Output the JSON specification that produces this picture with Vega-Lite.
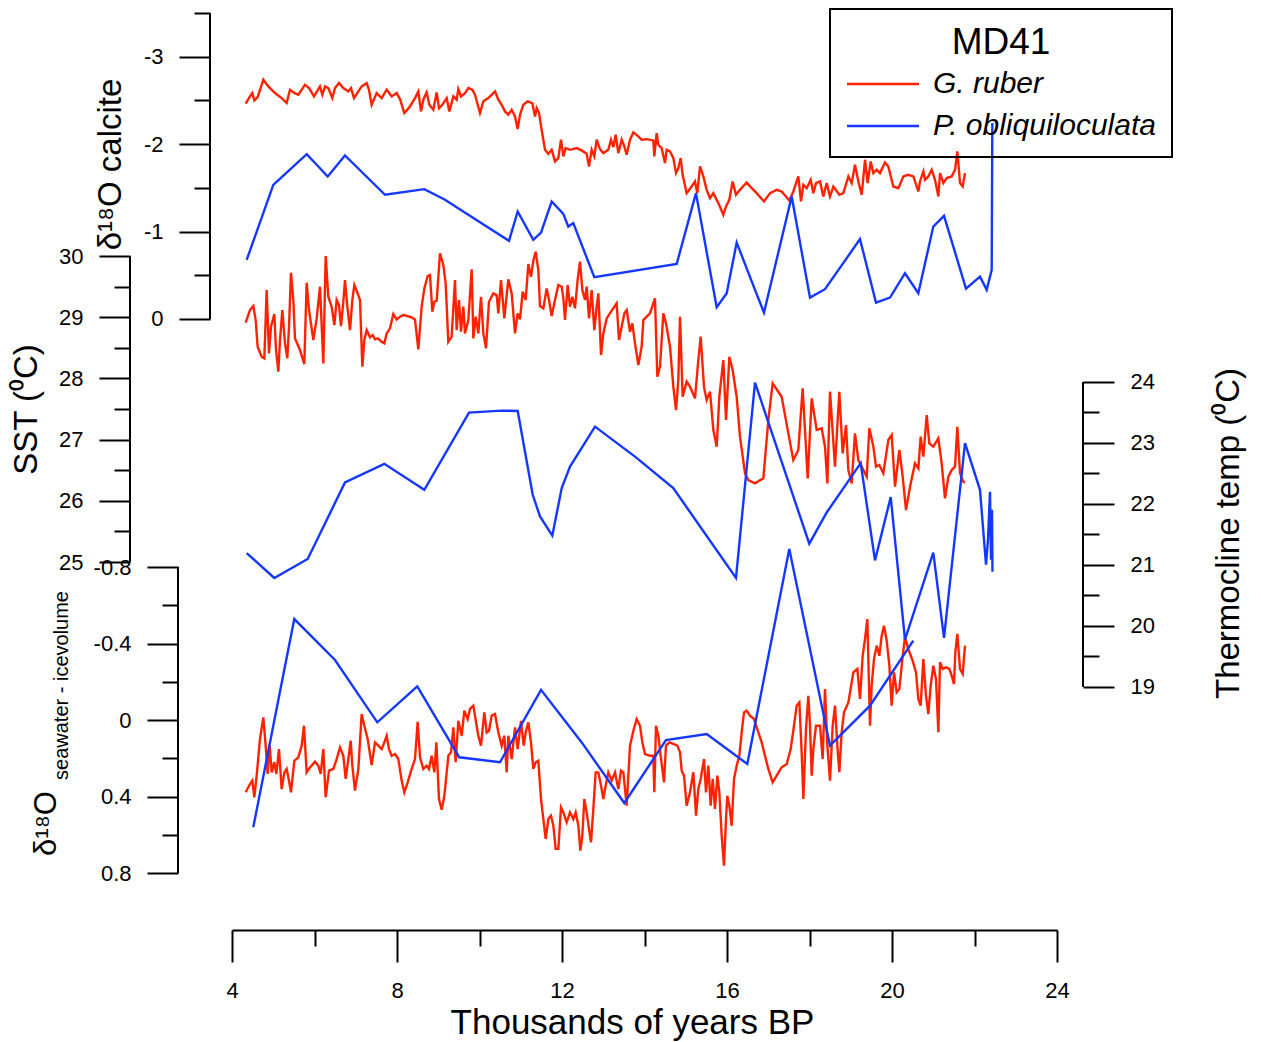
{
"$schema": "https://vega.github.io/schema/vega-lite/v6.json",
"width": 825, "height": 917, "autosize": "none",
"padding": {"left": 232, "top": 13, "right": 204, "bottom": 112},
"background": "white",
"config": {
 "view": {"stroke": null},
 "font": "Liberation Sans",
 "axis": {"grid": false, "domainColor": "#000", "domainWidth": 2, "tickColor": "#000", "tickWidth": 2, "labelColor": "#000", "titleColor": "#000", "labelFontSize": 22, "titleFontSize": 33, "titleFontWeight": "normal", "labelFont": "Liberation Sans", "titleFont": "Liberation Sans", "labelPadding": 16, "labelOverlap": false, "labelFlush": false},
 "legend": {"strokeWidth": 2},
 "line": {"strokeWidth": 2.4}
},
"datasets": {
 "calc_r": [{"t":4.331,"v":-2.462},{"t":4.436,"v":-2.546},{"t":4.493,"v":-2.584},{"t":4.541,"v":-2.5},{"t":4.622,"v":-2.538},{"t":4.76,"v":-2.737},{"t":4.881,"v":-2.66},{"t":5.042,"v":-2.584},{"t":5.204,"v":-2.527},{"t":5.325,"v":-2.47},{"t":5.406,"v":-2.622},{"t":5.511,"v":-2.584},{"t":5.608,"v":-2.565},{"t":5.77,"v":-2.68},{"t":5.867,"v":-2.641},{"t":5.988,"v":-2.546},{"t":6.133,"v":-2.66},{"t":6.19,"v":-2.565},{"t":6.255,"v":-2.66},{"t":6.335,"v":-2.641},{"t":6.432,"v":-2.527},{"t":6.497,"v":-2.641},{"t":6.594,"v":-2.699},{"t":6.699,"v":-2.641},{"t":6.82,"v":-2.603},{"t":6.885,"v":-2.641},{"t":6.958,"v":-2.527},{"t":7.047,"v":-2.592},{"t":7.144,"v":-2.66},{"t":7.265,"v":-2.699},{"t":7.321,"v":-2.622},{"t":7.386,"v":-2.45},{"t":7.507,"v":-2.584},{"t":7.628,"v":-2.527},{"t":7.75,"v":-2.622},{"t":7.871,"v":-2.546},{"t":7.992,"v":-2.584},{"t":8.073,"v":-2.515},{"t":8.178,"v":-2.355},{"t":8.315,"v":-2.431},{"t":8.436,"v":-2.527},{"t":8.517,"v":-2.603},{"t":8.582,"v":-2.374},{"t":8.638,"v":-2.508},{"t":8.719,"v":-2.592},{"t":8.784,"v":-2.45},{"t":8.881,"v":-2.393},{"t":8.962,"v":-2.592},{"t":9.018,"v":-2.412},{"t":9.099,"v":-2.45},{"t":9.204,"v":-2.527},{"t":9.269,"v":-2.374},{"t":9.366,"v":-2.546},{"t":9.446,"v":-2.508},{"t":9.487,"v":-2.63},{"t":9.552,"v":-2.546},{"t":9.649,"v":-2.584},{"t":9.729,"v":-2.641},{"t":9.826,"v":-2.622},{"t":9.891,"v":-2.565},{"t":10.012,"v":-2.355},{"t":10.093,"v":-2.489},{"t":10.214,"v":-2.527},{"t":10.376,"v":-2.603},{"t":10.457,"v":-2.508},{"t":10.538,"v":-2.45},{"t":10.618,"v":-2.374},{"t":10.699,"v":-2.336},{"t":10.78,"v":-2.393},{"t":10.861,"v":-2.317},{"t":10.925,"v":-2.172},{"t":10.982,"v":-2.336},{"t":11.063,"v":-2.45},{"t":11.168,"v":-2.489},{"t":11.281,"v":-2.47},{"t":11.346,"v":-2.317},{"t":11.386,"v":-2.412},{"t":11.443,"v":-2.355},{"t":11.507,"v":-2.164},{"t":11.588,"v":-1.935},{"t":11.669,"v":-1.889},{"t":11.75,"v":-1.935},{"t":11.83,"v":-1.802},{"t":11.911,"v":-1.84},{"t":11.976,"v":-2.05},{"t":12.033,"v":-1.859},{"t":12.089,"v":-1.954},{"t":12.194,"v":-1.935},{"t":12.356,"v":-1.954},{"t":12.477,"v":-1.928},{"t":12.598,"v":-1.889},{"t":12.655,"v":-1.744},{"t":12.719,"v":-1.935},{"t":12.784,"v":-1.859},{"t":12.84,"v":-2.05},{"t":12.921,"v":-1.943},{"t":13.002,"v":-1.897},{"t":13.123,"v":-1.935},{"t":13.188,"v":-2.05},{"t":13.245,"v":-1.966},{"t":13.301,"v":-2.107},{"t":13.366,"v":-1.897},{"t":13.447,"v":-2.05},{"t":13.511,"v":-1.973},{"t":13.568,"v":-1.878},{"t":13.649,"v":-2.05},{"t":13.729,"v":-2.134},{"t":13.85,"v":-2.088},{"t":13.931,"v":-2.05},{"t":14.053,"v":-2.057},{"t":14.214,"v":-2.042},{"t":14.238,"v":-1.859},{"t":14.295,"v":-2.126},{"t":14.335,"v":-1.993},{"t":14.416,"v":-1.954},{"t":14.497,"v":-1.783},{"t":14.537,"v":-1.935},{"t":14.618,"v":-1.916},{"t":14.699,"v":-1.84},{"t":14.764,"v":-1.668},{"t":14.82,"v":-1.725},{"t":14.877,"v":-1.84},{"t":14.925,"v":-1.649},{"t":15.022,"v":-1.439},{"t":15.144,"v":-1.515},{"t":15.224,"v":-1.573},{"t":15.281,"v":-1.439},{"t":15.346,"v":-1.744},{"t":15.426,"v":-1.63},{"t":15.507,"v":-1.477},{"t":15.588,"v":-1.382},{"t":15.669,"v":-1.439},{"t":15.79,"v":-1.325},{"t":15.911,"v":-1.191},{"t":15.976,"v":-1.287},{"t":16.057,"v":-1.363},{"t":16.137,"v":-1.573},{"t":16.218,"v":-1.42},{"t":16.315,"v":-1.477},{"t":16.477,"v":-1.561},{"t":16.598,"v":-1.496},{"t":16.719,"v":-1.439},{"t":16.897,"v":-1.344},{"t":17.043,"v":-1.439},{"t":17.204,"v":-1.477},{"t":17.325,"v":-1.458},{"t":17.511,"v":-1.355},{"t":17.608,"v":-1.458},{"t":17.729,"v":-1.63},{"t":17.794,"v":-1.344},{"t":17.851,"v":-1.534},{"t":17.932,"v":-1.496},{"t":18.029,"v":-1.592},{"t":18.093,"v":-1.439},{"t":18.158,"v":-1.554},{"t":18.255,"v":-1.573},{"t":18.335,"v":-1.401},{"t":18.416,"v":-1.554},{"t":18.497,"v":-1.401},{"t":18.578,"v":-1.515},{"t":18.724,"v":-1.42},{"t":18.82,"v":-1.439},{"t":18.942,"v":-1.63},{"t":19.022,"v":-1.554},{"t":19.103,"v":-1.763},{"t":19.184,"v":-1.573},{"t":19.265,"v":-1.42},{"t":19.346,"v":-1.821},{"t":19.41,"v":-1.554},{"t":19.483,"v":-1.802},{"t":19.548,"v":-1.668},{"t":19.628,"v":-1.706},{"t":19.709,"v":-1.668},{"t":19.83,"v":-1.79},{"t":19.911,"v":-1.744},{"t":20.032,"v":-1.515},{"t":20.154,"v":-1.496},{"t":20.275,"v":-1.63},{"t":20.396,"v":-1.649},{"t":20.518,"v":-1.63},{"t":20.639,"v":-1.458},{"t":20.679,"v":-1.573},{"t":20.76,"v":-1.687},{"t":20.8,"v":-1.592},{"t":20.881,"v":-1.63},{"t":20.962,"v":-1.706},{"t":21.043,"v":-1.592},{"t":21.124,"v":-1.401},{"t":21.164,"v":-1.668},{"t":21.245,"v":-1.554},{"t":21.326,"v":-1.611},{"t":21.447,"v":-1.63},{"t":21.528,"v":-1.706},{"t":21.584,"v":-1.916},{"t":21.649,"v":-1.554},{"t":21.714,"v":-1.515},{"t":21.77,"v":-1.668}],
 "calc_b": [{"t":4.356,"v":-0.676},{"t":5.001,"v":-1.534},{"t":5.811,"v":-1.886},{"t":6.32,"v":-1.629},{"t":6.739,"v":-1.87},{"t":7.709,"v":-1.42},{"t":8.662,"v":-1.485},{"t":9.164,"v":-1.363},{"t":9.728,"v":-1.191},{"t":10.715,"v":-0.893},{"t":10.926,"v":-1.229},{"t":11.304,"v":-0.905},{"t":11.491,"v":-0.988},{"t":11.75,"v":-1.343},{"t":12.032,"v":-1.202},{"t":12.153,"v":-1.057},{"t":12.274,"v":-1.096},{"t":12.783,"v":-0.477},{"t":14.781,"v":-0.63},{"t":15.248,"v":-1.439},{"t":15.75,"v":-0.134},{"t":15.993,"v":-0.294},{"t":16.235,"v":-0.874},{"t":16.679,"v":-0.332},{"t":16.897,"v":-0.072},{"t":17.568,"v":-1.4},{"t":18.012,"v":-0.244},{"t":18.376,"v":-0.34},{"t":19.224,"v":-0.913},{"t":19.612,"v":-0.187},{"t":19.952,"v":-0.244},{"t":20.315,"v":-0.523},{"t":20.638,"v":-0.294},{"t":21.001,"v":-1.057},{"t":21.261,"v":-1.179},{"t":21.794,"v":-0.347},{"t":22.133,"v":-0.484},{"t":22.296,"v":-0.332},{"t":22.417,"v":-0.561},{"t":22.432,"v":-2.241}],
 "sst_r": [{"t":4.331,"v":28.91},{"t":4.436,"v":29.117},{"t":4.517,"v":29.183},{"t":4.574,"v":28.954},{"t":4.622,"v":28.518},{"t":4.719,"v":28.355},{"t":4.784,"v":28.327},{"t":4.84,"v":29.444},{"t":4.897,"v":28.409},{"t":4.945,"v":28.845},{"t":5.026,"v":29.052},{"t":5.067,"v":28.464},{"t":5.123,"v":28.11},{"t":5.164,"v":28.627},{"t":5.22,"v":29.117},{"t":5.285,"v":28.573},{"t":5.341,"v":28.327},{"t":5.382,"v":28.845},{"t":5.43,"v":29.727},{"t":5.487,"v":29.281},{"t":5.527,"v":28.654},{"t":5.648,"v":28.464},{"t":5.753,"v":28.235},{"t":5.81,"v":29.564},{"t":5.867,"v":29.117},{"t":5.972,"v":28.627},{"t":6.053,"v":28.981},{"t":6.133,"v":29.499},{"t":6.214,"v":28.246},{"t":6.271,"v":30.0},{"t":6.335,"v":29.335},{"t":6.416,"v":29.172},{"t":6.481,"v":28.872},{"t":6.537,"v":29.281},{"t":6.594,"v":29.199},{"t":6.642,"v":28.856},{"t":6.699,"v":29.253},{"t":6.739,"v":29.607},{"t":6.796,"v":29.172},{"t":6.861,"v":28.79},{"t":6.917,"v":29.281},{"t":6.966,"v":29.526},{"t":7.03,"v":29.417},{"t":7.103,"v":29.281},{"t":7.16,"v":28.191},{"t":7.208,"v":28.627},{"t":7.265,"v":28.79},{"t":7.346,"v":28.671},{"t":7.41,"v":28.709},{"t":7.467,"v":28.638},{"t":7.531,"v":28.654},{"t":7.628,"v":28.6},{"t":7.693,"v":28.573},{"t":7.75,"v":28.736},{"t":7.83,"v":28.818},{"t":7.911,"v":29.052},{"t":7.992,"v":28.965},{"t":8.073,"v":29.008},{"t":8.154,"v":29.036},{"t":8.259,"v":29.019},{"t":8.356,"v":28.997},{"t":8.436,"v":28.965},{"t":8.517,"v":28.475},{"t":8.598,"v":29.172},{"t":8.663,"v":29.471},{"t":8.744,"v":29.673},{"t":8.8,"v":29.689},{"t":8.857,"v":29.09},{"t":8.905,"v":29.253},{"t":8.962,"v":29.27},{"t":9.042,"v":30.043},{"t":9.123,"v":29.853},{"t":9.18,"v":29.553},{"t":9.244,"v":28.6},{"t":9.325,"v":28.682},{"t":9.406,"v":29.607},{"t":9.446,"v":28.79},{"t":9.503,"v":29.281},{"t":9.551,"v":28.763},{"t":9.608,"v":29.172},{"t":9.648,"v":28.736},{"t":9.729,"v":28.954},{"t":9.81,"v":29.782},{"t":9.851,"v":28.654},{"t":9.907,"v":29.008},{"t":9.972,"v":28.736},{"t":10.036,"v":29.335},{"t":10.093,"v":28.736},{"t":10.158,"v":28.491},{"t":10.23,"v":29.253},{"t":10.335,"v":29.39},{"t":10.416,"v":29.362},{"t":10.457,"v":29.063},{"t":10.521,"v":29.607},{"t":10.602,"v":28.981},{"t":10.699,"v":29.618},{"t":10.78,"v":29.39},{"t":10.861,"v":28.736},{"t":10.925,"v":29.063},{"t":10.982,"v":28.965},{"t":11.047,"v":29.417},{"t":11.119,"v":29.281},{"t":11.184,"v":29.869},{"t":11.248,"v":29.662},{"t":11.305,"v":29.923},{"t":11.362,"v":30.07},{"t":11.426,"v":29.771},{"t":11.467,"v":29.183},{"t":11.548,"v":29.145},{"t":11.628,"v":29.471},{"t":11.685,"v":29.281},{"t":11.75,"v":29.019},{"t":11.83,"v":29.281},{"t":11.911,"v":29.526},{"t":11.992,"v":29.499},{"t":12.033,"v":29.308},{"t":12.073,"v":28.954},{"t":12.137,"v":29.526},{"t":12.194,"v":29.172},{"t":12.251,"v":29.335},{"t":12.315,"v":29.145},{"t":12.38,"v":29.618},{"t":12.436,"v":29.907},{"t":12.493,"v":29.444},{"t":12.558,"v":29.281},{"t":12.598,"v":29.499},{"t":12.655,"v":28.981},{"t":12.719,"v":29.444},{"t":12.784,"v":28.79},{"t":12.84,"v":29.172},{"t":12.881,"v":29.39},{"t":12.946,"v":28.382},{"t":13.002,"v":28.736},{"t":13.083,"v":28.981},{"t":13.188,"v":29.09},{"t":13.325,"v":29.226},{"t":13.382,"v":28.627},{"t":13.447,"v":28.845},{"t":13.511,"v":29.063},{"t":13.568,"v":29.117},{"t":13.649,"v":28.763},{"t":13.705,"v":28.899},{"t":13.77,"v":28.573},{"t":13.851,"v":28.219},{"t":13.931,"v":28.518},{"t":13.972,"v":28.954},{"t":14.133,"v":29.063},{"t":14.254,"v":29.308},{"t":14.311,"v":28.028},{"t":14.376,"v":28.192},{"t":14.457,"v":29.063},{"t":14.521,"v":28.9},{"t":14.618,"v":28.518},{"t":14.699,"v":27.865},{"t":14.764,"v":27.483},{"t":14.82,"v":27.974},{"t":14.861,"v":29.008},{"t":14.925,"v":27.701},{"t":15.022,"v":27.946},{"t":15.103,"v":27.865},{"t":15.224,"v":27.674},{"t":15.305,"v":28.3},{"t":15.362,"v":28.682},{"t":15.442,"v":27.865},{"t":15.507,"v":27.647},{"t":15.588,"v":27.783},{"t":15.669,"v":27.157},{"t":15.75,"v":26.884},{"t":15.814,"v":27.701},{"t":15.911,"v":28.3},{"t":15.976,"v":27.32},{"t":16.057,"v":28.355},{"t":16.137,"v":28.137},{"t":16.234,"v":27.701},{"t":16.315,"v":27.048},{"t":16.437,"v":26.449},{"t":16.517,"v":26.34},{"t":16.679,"v":26.285},{"t":16.881,"v":26.367},{"t":17.002,"v":27.32},{"t":17.107,"v":27.919},{"t":17.325,"v":27.701},{"t":17.487,"v":27.102},{"t":17.608,"v":26.666},{"t":17.729,"v":26.83},{"t":17.834,"v":27.837},{"t":17.891,"v":27.157},{"t":17.956,"v":26.367},{"t":18.053,"v":27.674},{"t":18.174,"v":27.157},{"t":18.295,"v":27.184},{"t":18.376,"v":26.884},{"t":18.433,"v":26.285},{"t":18.497,"v":27.783},{"t":18.618,"v":26.558},{"t":18.723,"v":27.783},{"t":18.804,"v":26.775},{"t":18.885,"v":27.238},{"t":18.942,"v":26.503},{"t":19.022,"v":26.285},{"t":19.103,"v":27.102},{"t":19.184,"v":26.666},{"t":19.265,"v":26.558},{"t":19.386,"v":26.394},{"t":19.451,"v":27.184},{"t":19.548,"v":26.884},{"t":19.612,"v":26.558},{"t":19.693,"v":26.585},{"t":19.79,"v":26.449},{"t":19.911,"v":26.993},{"t":19.992,"v":27.075},{"t":20.073,"v":26.231},{"t":20.178,"v":26.83},{"t":20.259,"v":26.394},{"t":20.34,"v":25.849},{"t":20.437,"v":26.231},{"t":20.558,"v":26.612},{"t":20.639,"v":26.53},{"t":20.695,"v":27.048},{"t":20.76,"v":26.721},{"t":20.841,"v":27.402},{"t":20.905,"v":26.939},{"t":21.002,"v":26.884},{"t":21.124,"v":27.02},{"t":21.204,"v":26.612},{"t":21.285,"v":26.04},{"t":21.366,"v":26.394},{"t":21.447,"v":26.503},{"t":21.528,"v":26.558},{"t":21.584,"v":27.211},{"t":21.649,"v":26.449},{"t":21.73,"v":26.312},{"t":21.77,"v":26.296}],
 "thermo_b": [{"t":4.356,"v":21.196},{"t":5.025,"v":20.787},{"t":5.835,"v":21.098},{"t":6.739,"v":22.352},{"t":7.692,"v":22.658},{"t":8.662,"v":22.232},{"t":9.745,"v":23.498},{"t":10.538,"v":23.53},{"t":10.926,"v":23.525},{"t":11.29,"v":22.151},{"t":11.467,"v":21.795},{"t":11.765,"v":21.48},{"t":11.993,"v":22.26},{"t":12.194,"v":22.614},{"t":12.8,"v":23.268},{"t":13.77,"v":22.777},{"t":14.698,"v":22.26},{"t":16.218,"v":20.787},{"t":16.679,"v":23.989},{"t":17.995,"v":21.349},{"t":18.417,"v":21.861},{"t":19.241,"v":22.669},{"t":19.588,"v":21.075},{"t":19.969,"v":22.113},{"t":20.315,"v":19.777},{"t":21.001,"v":21.201},{"t":21.261,"v":19.805},{"t":21.77,"v":22.997},{"t":22.133,"v":22.232},{"t":22.279,"v":21.005},{"t":22.327,"v":21.414},{"t":22.376,"v":22.2},{"t":22.4,"v":21.087},{"t":22.424,"v":21.905},{"t":22.436,"v":20.89}],
 "sw_b": [{"t":4.516,"v":0.561},{"t":5.51,"v":-0.528},{"t":6.497,"v":-0.314},{"t":7.522,"v":0.012},{"t":8.492,"v":-0.176},{"t":9.51,"v":0.195},{"t":10.497,"v":0.221},{"t":11.491,"v":-0.158},{"t":12.478,"v":0.117},{"t":13.51,"v":0.434},{"t":14.521,"v":0.105},{"t":15.508,"v":0.073},{"t":16.492,"v":0.23},{"t":17.51,"v":-0.894},{"t":18.497,"v":0.134},{"t":19.467,"v":-0.075},{"t":20.516,"v":-0.415}],
 "sw_r": [{"t":4.331,"v":0.378},{"t":4.436,"v":0.335},{"t":4.493,"v":0.317},{"t":4.541,"v":0.404},{"t":4.598,"v":0.291},{"t":4.679,"v":0.099},{"t":4.76,"v":-0.014},{"t":4.816,"v":0.134},{"t":4.865,"v":0.282},{"t":4.913,"v":0.134},{"t":4.962,"v":0.274},{"t":5.026,"v":0.221},{"t":5.075,"v":0.282},{"t":5.139,"v":0.152},{"t":5.204,"v":0.361},{"t":5.269,"v":0.274},{"t":5.325,"v":0.256},{"t":5.382,"v":0.317},{"t":5.43,"v":0.378},{"t":5.511,"v":0.213},{"t":5.608,"v":0.195},{"t":5.689,"v":0.134},{"t":5.745,"v":0.03},{"t":5.81,"v":0.274},{"t":5.891,"v":0.248},{"t":6.012,"v":0.218},{"t":6.093,"v":0.239},{"t":6.15,"v":0.282},{"t":6.214,"v":0.152},{"t":6.271,"v":0.404},{"t":6.352,"v":0.265},{"t":6.457,"v":0.256},{"t":6.537,"v":0.204},{"t":6.618,"v":0.143},{"t":6.699,"v":0.187},{"t":6.756,"v":0.308},{"t":6.82,"v":0.204},{"t":6.877,"v":0.108},{"t":6.917,"v":0.239},{"t":6.982,"v":0.369},{"t":7.063,"v":0.256},{"t":7.143,"v":-0.031},{"t":7.208,"v":0.03},{"t":7.289,"v":0.099},{"t":7.386,"v":0.235},{"t":7.467,"v":0.117},{"t":7.547,"v":0.134},{"t":7.628,"v":0.152},{"t":7.693,"v":0.117},{"t":7.75,"v":0.082},{"t":7.806,"v":0.152},{"t":7.871,"v":0.187},{"t":7.952,"v":0.178},{"t":8.032,"v":0.204},{"t":8.113,"v":0.317},{"t":8.178,"v":0.378},{"t":8.259,"v":0.326},{"t":8.356,"v":0.256},{"t":8.436,"v":0.204},{"t":8.501,"v":0.009},{"t":8.558,"v":0.195},{"t":8.638,"v":0.256},{"t":8.719,"v":0.239},{"t":8.776,"v":0.256},{"t":8.84,"v":0.187},{"t":8.905,"v":0.274},{"t":8.954,"v":0.117},{"t":9.018,"v":0.413},{"t":9.083,"v":0.469},{"t":9.148,"v":0.396},{"t":9.245,"v":0.187},{"t":9.309,"v":0.169},{"t":9.366,"v":0.038},{"t":9.422,"v":0.221},{"t":9.487,"v":0.004},{"t":9.568,"v":0.082},{"t":9.632,"v":-0.049},{"t":9.713,"v":-0.005},{"t":9.77,"v":-0.058},{"t":9.851,"v":-0.075},{"t":9.931,"v":0.03},{"t":9.972,"v":0.082},{"t":10.036,"v":0.134},{"t":10.117,"v":-0.04},{"t":10.174,"v":0.065},{"t":10.23,"v":0.056},{"t":10.295,"v":-0.023},{"t":10.376,"v":-0.031},{"t":10.457,"v":0.065},{"t":10.538,"v":0.134},{"t":10.602,"v":0.082},{"t":10.659,"v":0.274},{"t":10.699,"v":0.082},{"t":10.78,"v":0.204},{"t":10.861,"v":0.038},{"t":10.925,"v":0.152},{"t":11.006,"v":0.004},{"t":11.071,"v":0.134},{"t":11.119,"v":0.065},{"t":11.184,"v":0.012},{"t":11.248,"v":0.117},{"t":11.305,"v":0.256},{"t":11.362,"v":0.221},{"t":11.426,"v":0.213},{"t":11.491,"v":0.413},{"t":11.548,"v":0.518},{"t":11.604,"v":0.622},{"t":11.669,"v":0.518},{"t":11.733,"v":0.5},{"t":11.79,"v":0.552},{"t":11.847,"v":0.674},{"t":11.911,"v":0.674},{"t":11.976,"v":0.457},{"t":12.033,"v":0.483},{"t":12.113,"v":0.535},{"t":12.194,"v":0.483},{"t":12.275,"v":0.518},{"t":12.331,"v":0.483},{"t":12.396,"v":0.552},{"t":12.445,"v":0.683},{"t":12.493,"v":0.605},{"t":12.541,"v":0.413},{"t":12.598,"v":0.483},{"t":12.655,"v":0.57},{"t":12.703,"v":0.64},{"t":12.76,"v":0.465},{"t":12.816,"v":0.274},{"t":12.881,"v":0.274},{"t":12.946,"v":0.343},{"t":13.002,"v":0.413},{"t":13.059,"v":0.343},{"t":13.123,"v":0.274},{"t":13.204,"v":0.317},{"t":13.285,"v":0.274},{"t":13.366,"v":0.361},{"t":13.43,"v":0.265},{"t":13.487,"v":0.274},{"t":13.568,"v":0.448},{"t":13.649,"v":0.134},{"t":13.73,"v":0.056},{"t":13.81,"v":-0.005},{"t":13.891,"v":0.03},{"t":13.948,"v":0.117},{"t":14.012,"v":0.178},{"t":14.133,"v":0.187},{"t":14.214,"v":0.187},{"t":14.238,"v":0.378},{"t":14.279,"v":0.03},{"t":14.335,"v":0.082},{"t":14.392,"v":0.187},{"t":14.473,"v":0.326},{"t":14.521,"v":0.134},{"t":14.602,"v":0.117},{"t":14.699,"v":0.125},{"t":14.796,"v":0.134},{"t":14.861,"v":0.169},{"t":14.901,"v":0.265},{"t":14.958,"v":0.291},{"t":15.022,"v":0.448},{"t":15.103,"v":0.378},{"t":15.184,"v":0.273},{"t":15.249,"v":0.5},{"t":15.305,"v":0.361},{"t":15.362,"v":0.308},{"t":15.443,"v":0.204},{"t":15.491,"v":0.378},{"t":15.548,"v":0.239},{"t":15.604,"v":0.448},{"t":15.653,"v":0.308},{"t":15.709,"v":0.465},{"t":15.766,"v":0.291},{"t":15.814,"v":0.378},{"t":15.871,"v":0.605},{"t":15.927,"v":0.762},{"t":15.976,"v":0.517},{"t":16.008,"v":0.396},{"t":16.057,"v":0.448},{"t":16.113,"v":0.553},{"t":16.17,"v":0.308},{"t":16.234,"v":0.239},{"t":16.299,"v":0.187},{"t":16.356,"v":0.064},{"t":16.412,"v":-0.04},{"t":16.477,"v":-0.049},{"t":16.558,"v":-0.023},{"t":16.655,"v":-0.005},{"t":16.76,"v":0.064},{"t":16.841,"v":0.117},{"t":16.921,"v":0.187},{"t":17.002,"v":0.256},{"t":17.107,"v":0.326},{"t":17.204,"v":0.291},{"t":17.325,"v":0.247},{"t":17.447,"v":0.23},{"t":17.544,"v":0.152},{"t":17.624,"v":0.03},{"t":17.689,"v":-0.075},{"t":17.754,"v":-0.092},{"t":17.81,"v":0.169},{"t":17.851,"v":0.413},{"t":17.915,"v":0.047},{"t":17.972,"v":-0.127},{"t":18.012,"v":0.03},{"t":18.053,"v":0.291},{"t":18.093,"v":0.152},{"t":18.158,"v":0.03},{"t":18.255,"v":0.03},{"t":18.319,"v":0.204},{"t":18.376,"v":-0.162},{"t":18.433,"v":0.134},{"t":18.497,"v":0.317},{"t":18.562,"v":0.03},{"t":18.618,"v":-0.075},{"t":18.675,"v":0.134},{"t":18.723,"v":0.273},{"t":18.78,"v":0.064},{"t":18.837,"v":-0.04},{"t":18.942,"v":-0.092},{"t":19.063,"v":-0.249},{"t":19.16,"v":-0.267},{"t":19.224,"v":-0.11},{"t":19.289,"v":-0.336},{"t":19.346,"v":-0.424},{"t":19.402,"v":-0.528},{"t":19.467,"v":0.03},{"t":19.507,"v":-0.18},{"t":19.564,"v":-0.319},{"t":19.629,"v":-0.389},{"t":19.693,"v":-0.336},{"t":19.75,"v":-0.441},{"t":19.806,"v":-0.493},{"t":19.871,"v":-0.415},{"t":19.936,"v":-0.284},{"t":19.992,"v":-0.075},{"t":20.049,"v":-0.249},{"t":20.113,"v":-0.145},{"t":20.178,"v":-0.162},{"t":20.259,"v":-0.336},{"t":20.315,"v":-0.432},{"t":20.396,"v":-0.371},{"t":20.501,"v":-0.31},{"t":20.582,"v":-0.249},{"t":20.639,"v":-0.11},{"t":20.695,"v":-0.075},{"t":20.76,"v":-0.319},{"t":20.824,"v":-0.127},{"t":20.881,"v":-0.031},{"t":20.938,"v":-0.18},{"t":21.002,"v":-0.284},{"t":21.067,"v":-0.214},{"t":21.124,"v":0.064},{"t":21.164,"v":-0.302},{"t":21.229,"v":-0.267},{"t":21.309,"v":-0.275},{"t":21.39,"v":-0.267},{"t":21.447,"v":-0.232},{"t":21.503,"v":-0.188},{"t":21.535,"v":-0.354},{"t":21.584,"v":-0.45},{"t":21.649,"v":-0.267},{"t":21.714,"v":-0.241},{"t":21.77,"v":-0.389}]
},
"layer": [
 {"layer": [
  {"data": {"name": "calc_r"}, "mark": {"type": "line", "strokeWidth": 2.4},
   "encoding": {
    "x": {"field": "t", "type": "quantitative", "title": "Thousands of years BP", "scale": {"domain": [4, 24], "nice": false, "zero": false},
      "axis": {"orient": "bottom", "values": [4,6,8,10,12,14,16,18,20,22,24], "labelExpr": "datum.value % 4 == 0 ? '' + datum.value : ''", "tickSize": {"condition": {"test": "datum.value % 4 == 0", "value": 32}, "value": 16}, "labelPadding": 18, "titleFontSize": 35, "titleX": 400, "titleY": 92, "titleAlign": "center", "titleBaseline": "middle"}},
    "y": {"field": "v", "type": "quantitative", "title": "δ¹⁸O calcite", "scale": {"domain": [-3.5, 6.991], "reverse": true, "nice": false, "zero": false},
      "axis": {"orient": "left", "offset": 22, "domain": false, "values": [-3.5,-3,-2.5,-2,-1.5,-1,-0.5,0], "labelExpr": "datum.value % 1 == 0 ? '' + datum.value : ''", "tickSize": {"condition": {"test": "datum.value % 1 == 0", "value": 31}, "value": 16}, "titleAngle": -90, "titleX": -100, "titleY": 151, "titleAlign": "center", "titleBaseline": "middle"}},
    "color": {"datum": "G. ruber", "type": "nominal", "title": "MD41", "scale": {"domain": ["G. ruber", "P. obliquiloculata"], "range": ["#FF2200", "#1438FF"]},
      "legend": {"orient": "none", "legendX": 598, "legendY": -4, "titleFontSize": 37, "titleFontWeight": "normal", "titleAnchor": "middle", "titleBaseline": "top", "titlePadding": 7, "titleColor": "#000", "labelFontSize": 30, "labelFontStyle": "italic", "labelColor": "#000", "labelOffset": 35, "labelLimit": 400, "symbolType": "M-3,0H3", "symbolSize": 576, "symbolStrokeWidth": 2.4, "symbolOffset": 22, "rowPadding": 12, "padding": 16, "strokeColor": "#000"}}
   }},
  {"data": {"name": "calc_b"}, "mark": {"type": "line", "strokeWidth": 2.4},
   "encoding": {"x": {"field": "t", "type": "quantitative", "title": "Thousands of years BP"}, "y": {"field": "v", "type": "quantitative", "title": "δ¹⁸O calcite"}, "color": {"datum": "P. obliquiloculata", "type": "nominal", "title": "MD41"}}},
  {"data": {"values": [{}]}, "mark": {"type": "rule", "strokeWidth": 2, "color": "#000"},
   "encoding": {"x": {"datum": 3.4667, "type": "quantitative", "title": "Thousands of years BP"}, "y": {"datum": -3.5, "type": "quantitative", "title": "δ¹⁸O calcite"}, "y2": {"datum": 0}}}
 ]},
 {"layer": [
  {"data": {"name": "sst_r"}, "mark": {"type": "line", "strokeWidth": 2.4},
   "encoding": {"x": {"field": "t", "type": "quantitative", "title": "Thousands of years BP"},
    "y": {"field": "v", "type": "quantitative", "title": "SST (⁰C)", "scale": {"domain": [18.987, 33.971], "nice": false, "zero": false},
      "axis": {"orient": "left", "offset": 102, "domain": false, "values": [25,25.5,26,26.5,27,27.5,28,28.5,29,29.5,30], "labelExpr": "datum.value % 1 == 0 ? '' + datum.value : ''", "tickSize": {"condition": {"test": "datum.value % 1 == 0", "value": 31}, "value": 16}, "titleAngle": -90, "titleX": -104, "titleY": 396, "titleAlign": "center", "titleBaseline": "middle"}},
    "color": {"datum": "G. ruber", "type": "nominal", "title": "MD41"}}},
  {"data": {"values": [{}]}, "mark": {"type": "rule", "strokeWidth": 2, "color": "#000"},
   "encoding": {"x": {"datum": 1.5273, "type": "quantitative", "title": "Thousands of years BP"}, "y": {"datum": 25, "type": "quantitative", "title": "SST (⁰C)"}, "y2": {"datum": 30}}}
 ]},
 {"layer": [
  {"data": {"name": "sw_r"}, "mark": {"type": "line", "strokeWidth": 2.4},
   "encoding": {"x": {"field": "t", "type": "quantitative", "title": "Thousands of years BP"},
    "y": {"field": "v", "type": "quantitative", "title": "δ¹⁸O", "scale": {"domain": [-3.697, 1.098], "reverse": true, "nice": false, "zero": false},
      "axis": {"orient": "left", "offset": 54, "domain": false, "values": [-0.8,-0.6,-0.4,-0.2,0,0.2,0.4,0.6,0.8], "labelExpr": "indexof([-0.8,-0.4,0,0.4,0.8], datum.value) >= 0 ? '' + datum.value : ''", "tickSize": {"condition": {"test": "indexof([-0.8,-0.4,0,0.4,0.8], datum.value) >= 0", "value": 31}, "value": 16}, "titleFontSize": 31, "titleAngle": -90, "titleX": -132, "titleY": 810, "titleAlign": "center", "titleBaseline": "middle"}},
    "color": {"datum": "G. ruber", "type": "nominal", "title": "MD41"}}},
  {"data": {"values": [{}]}, "mark": {"type": "rule", "strokeWidth": 2, "color": "#000"},
   "encoding": {"x": {"datum": 2.6909, "type": "quantitative", "title": "Thousands of years BP"}, "y": {"datum": -0.8, "type": "quantitative", "title": "δ¹⁸O"}, "y2": {"datum": 0.8}}}
 ]},
 {"data": {"name": "sw_b"}, "mark": {"type": "line", "strokeWidth": 2.4},
  "encoding": {"x": {"field": "t", "type": "quantitative", "title": "Thousands of years BP"},
   "y": {"field": "v", "type": "quantitative", "title": "seawater - icevolume", "scale": {"domain": [-3.697, 1.098], "reverse": true, "nice": false, "zero": false},
     "axis": {"orient": "left", "offset": 54, "domain": false, "ticks": false, "labels": false, "titleFontSize": 20, "titleAngle": -90, "titleX": -117, "titleY": 672, "titleAlign": "center", "titleBaseline": "middle"}},
   "color": {"datum": "P. obliquiloculata", "type": "nominal", "title": "MD41"}}},
 {"layer": [
  {"data": {"name": "thermo_b"}, "mark": {"type": "line", "strokeWidth": 2.4},
   "encoding": {"x": {"field": "t", "type": "quantitative", "title": "Thousands of years BP"},
    "y": {"field": "v", "type": "quantitative", "title": "Thermocline temp (⁰C)", "scale": {"domain": [15.016, 30.049], "nice": false, "zero": false},
      "axis": {"orient": "right", "offset": 26, "domain": false, "values": [19,19.5,20,20.5,21,21.5,22,22.5,23,23.5,24], "labelExpr": "datum.value % 1 == 0 ? '' + datum.value : ''", "tickSize": {"condition": {"test": "datum.value % 1 == 0", "value": 31}, "value": 16}, "titleAngle": -90, "titleX": 145, "titleY": 520, "titleAlign": "center", "titleBaseline": "middle"}},
    "color": {"datum": "P. obliquiloculata", "type": "nominal", "title": "MD41"}}},
  {"data": {"values": [{}]}, "mark": {"type": "rule", "strokeWidth": 2, "color": "#000"},
   "encoding": {"x": {"datum": 24.6303, "type": "quantitative", "title": "Thousands of years BP"}, "y": {"datum": 19, "type": "quantitative", "title": "Thermocline temp (⁰C)"}, "y2": {"datum": 24}}}
 ]}
],
"resolve": {"scale": {"y": "independent"}}
}
